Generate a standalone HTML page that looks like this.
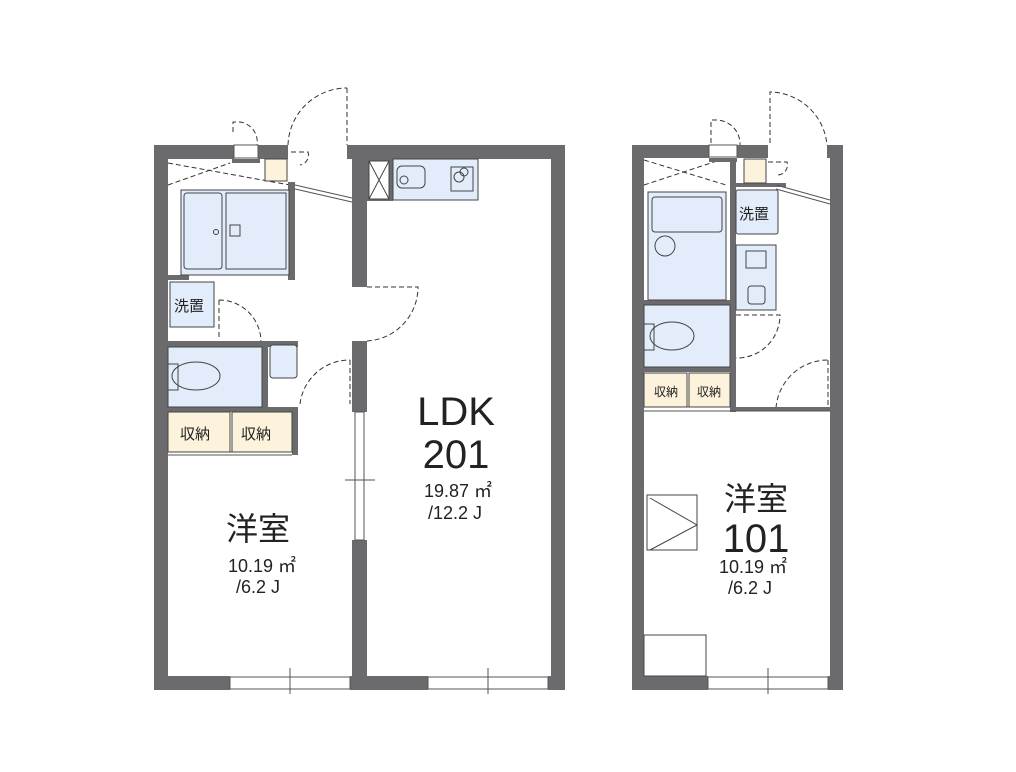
<!DOCTYPE html>
<html><head><meta charset="utf-8"><style>
html,body{margin:0;padding:0;background:#fff;}
svg{display:block;}
text{font-family:"Liberation Sans","Noto Sans CJK JP",sans-serif;fill:#222;}
</style></head><body>
<svg width="1016" height="772" viewBox="0 0 1016 772" xmlns="http://www.w3.org/2000/svg">
<g fill="none" stroke="#333" stroke-width="1" stroke-dasharray="5,3">
<!-- left unit doors -->
<path d="M233 132 V122 H240 A20 20 0 0 1 257 145"/>
<path d="M347 88 V145 M288 145 A59 59 0 0 1 347 88"/>
<path d="M291 152 H308 A10 10 0 0 1 300 165"/>
<path d="M367 287 H418 A54 54 0 0 1 367 341"/>
<path d="M219 300 V340 M219 300 A42 42 0 0 1 261 341"/>
<path d="M350 360 V404 M300 404 A50 50 0 0 1 350 360"/>
<path d="M168 163 L290 185 M168 185 L230 163"/>
<!-- right unit doors -->
<path d="M711 143 V120 H716 A24 24 0 0 1 740 145"/>
<path d="M770 143 V92 A58 58 0 0 1 827 145"/>
<path d="M768 162 H787 A10 10 0 0 1 777 175"/>
<path d="M736 315 H780 A43 43 0 0 1 736 358"/>
<path d="M828 360 V408 M776 408 A52 52 0 0 1 828 360"/>
<path d="M644 160 L726 185 M644 185 L720 160"/>
</g>
<g fill="#6b6b6e">
<!-- left unit walls -->
<rect x="154" y="145" width="78" height="14"/>
<rect x="232" y="145" width="2" height="18"/>
<rect x="232" y="159" width="28" height="4"/>
<rect x="258" y="145" width="30" height="14"/>
<rect x="347" y="145" width="218" height="14"/>
<rect x="154" y="145" width="14" height="545"/>
<rect x="551" y="145" width="14" height="545"/>
<rect x="154" y="676" width="76" height="14"/>
<rect x="350" y="676" width="78" height="14"/>
<rect x="548" y="676" width="17" height="14"/>
<rect x="352" y="145" width="15" height="142"/>
<rect x="352" y="341" width="15" height="71"/>
<rect x="352" y="540" width="15" height="150"/>
<rect x="288" y="182" width="7" height="98"/>
<rect x="168" y="275" width="21" height="5"/>
<rect x="168" y="341" width="130" height="6"/>
<rect x="262" y="341" width="6" height="71"/>
<rect x="168" y="407" width="130" height="5"/>
<rect x="292" y="412" width="6" height="43"/>
<rect x="367" y="159" width="26" height="42"/>
<!-- right unit walls -->
<rect x="632" y="145" width="77" height="13"/>
<rect x="737" y="145" width="31" height="13"/>
<rect x="709" y="158" width="28" height="4"/>
<rect x="827" y="145" width="16" height="13"/>
<rect x="632" y="145" width="12" height="545"/>
<rect x="830" y="145" width="13" height="545"/>
<rect x="632" y="676" width="76" height="14"/>
<rect x="828" y="676" width="15" height="14"/>
<rect x="730" y="158" width="6" height="254"/>
<rect x="736" y="183" width="50" height="4"/>
<rect x="644" y="300" width="86" height="5"/>
<rect x="644" y="367" width="86" height="5"/>
<rect x="736" y="407" width="94" height="4"/>
</g>
<g stroke="#555" stroke-width="1" fill="#fff">
<rect x="234" y="145" width="24" height="13"/>
<rect x="230" y="677" width="120" height="12"/>
<rect x="428" y="677" width="120" height="12"/>
<rect x="355" y="412" width="9" height="128"/>
<rect x="709" y="145" width="28" height="12"/>
<rect x="708" y="677" width="120" height="12"/>
<line x1="168" y1="452" x2="292" y2="452"/>
<line x1="168" y1="455" x2="292" y2="455"/>
<line x1="644" y1="407" x2="730" y2="407"/>
<line x1="644" y1="411" x2="830" y2="411"/>
<line x1="295" y1="185" x2="352" y2="198"/>
<line x1="295" y1="189" x2="352" y2="202"/>
<line x1="776" y1="185" x2="830" y2="200"/>
<line x1="776" y1="189" x2="830" y2="204"/>
<line x1="290" y1="668" x2="290" y2="694"/>
<line x1="488" y1="668" x2="488" y2="694"/>
<line x1="768" y1="668" x2="768" y2="694"/>
<line x1="345" y1="480" x2="375" y2="480"/>
</g>
<g stroke="#444" stroke-width="1">
<rect x="265" y="159" width="22" height="22" fill="#fdf3dc"/>
<rect x="744" y="159" width="22" height="24" fill="#fdf3dc"/>
<rect x="181" y="190" width="108" height="85" fill="#e3ecfb"/>
<rect x="184" y="193" width="38" height="76" rx="3" fill="none"/>
<rect x="226" y="193" width="60" height="76" fill="none"/>
<rect x="230" y="225" width="10" height="11" fill="none"/>
<circle cx="216" cy="232" r="2.5" fill="none"/>
<rect x="170" y="282" width="44" height="45" fill="#e3ecfb"/>
<rect x="168" y="347" width="94" height="60" fill="#e3ecfb"/>
<ellipse cx="196" cy="376" rx="24" ry="14" fill="none"/>
<rect x="168" y="364" width="10" height="26" fill="none"/>
<rect x="270" y="345" width="27" height="33" rx="3" fill="#e3ecfb"/>
<rect x="168" y="412" width="62" height="40" fill="#fdf3dc"/>
<rect x="232" y="412" width="60" height="40" fill="#fdf3dc"/>
<rect x="393" y="159" width="85" height="41" fill="#e3ecfb"/>
<rect x="397" y="166" width="28" height="22" rx="5" fill="none"/>
<circle cx="404" cy="180" r="4" fill="none"/>
<rect x="451" y="167" width="22" height="24" fill="none"/>
<circle cx="459" cy="177" r="5" fill="none"/><circle cx="464" cy="172" r="4" fill="none"/>
<rect x="369" y="161" width="20" height="38" fill="#fff"/>
<path d="M369 161 L389 199 M389 161 L369 199" fill="none"/>
<rect x="648" y="192" width="78" height="108" fill="#e3ecfb"/>
<rect x="652" y="197" width="70" height="35" rx="3" fill="none"/>
<ellipse cx="665" cy="246" rx="10" ry="10" fill="none"/>
<rect x="736" y="190" width="42" height="44" rx="2" fill="#e3ecfb"/>
<rect x="736" y="245" width="40" height="65" fill="#e3ecfb"/>
<rect x="746" y="251" width="20" height="17" fill="none"/>
<rect x="748" y="286" width="17" height="18" rx="3" fill="none"/>
<rect x="644" y="305" width="86" height="62" fill="#e3ecfb"/>
<ellipse cx="672" cy="336" rx="22" ry="14" fill="none"/>
<rect x="644" y="324" width="10" height="26" fill="none"/>
<rect x="644" y="373" width="43" height="34" fill="#fdf3dc"/>
<rect x="689" y="373" width="41" height="34" fill="#fdf3dc"/>
<rect x="647" y="495" width="50" height="55" fill="#fff"/>
<path d="M650 498 L697 525 L650 550" fill="none"/>
<rect x="644" y="635" width="62" height="41" fill="#fff"/>
</g>
<g font-size="15">
<text x="174" y="311">洗置</text>
<text x="180" y="439">収納</text>
<text x="241" y="439">収納</text>
<text x="739" y="219">洗置</text>
<text x="654" y="396" font-size="12">収納</text>
<text x="697" y="396" font-size="12">収納</text>
</g>
<g text-anchor="middle">
<text x="456" y="425" font-size="40">LDK</text>
<text x="456" y="468" font-size="40">201</text>
<text x="458" y="497" font-size="18">19.87 ㎡</text>
<text x="455" y="519" font-size="18">/12.2 J</text>
<text x="258" y="540" font-size="32">洋室</text>
<text x="262" y="572" font-size="18">10.19 ㎡</text>
<text x="258" y="593" font-size="18">/6.2 J</text>
<text x="756" y="510" font-size="32">洋室</text>
<text x="756" y="552" font-size="40">101</text>
<text x="753" y="573" font-size="18">10.19 ㎡</text>
<text x="750" y="594" font-size="18">/6.2 J</text>
</g>
</svg>
</body></html>
